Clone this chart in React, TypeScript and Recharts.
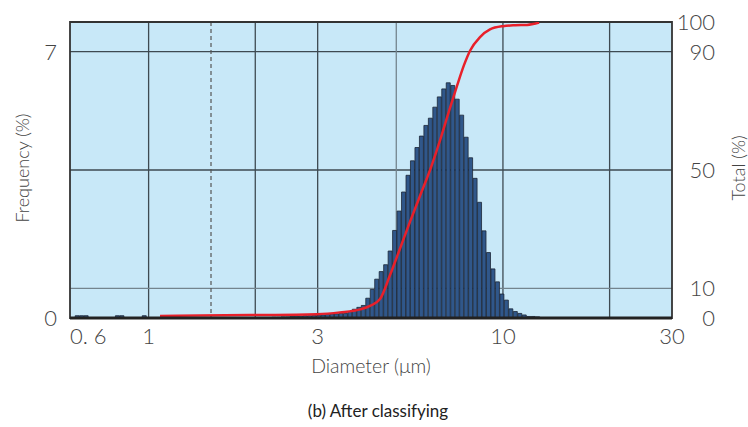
import React from 'react';
import { ComposedChart, Bar, Line, XAxis, YAxis, ReferenceLine, ReferenceArea, CartesianGrid } from 'recharts';

if (typeof document !== 'undefined') {
  document.body.style.margin = '0';
}

// Bin centre diameters (µm) of the histogram
const binDiameters = [
  0.6297, 0.6482, 0.6673, 0.8178, 0.8419, 0.9736,
  2.2611, 2.3277, 2.3963, 2.4669, 2.5396, 2.6144, 2.6914, 2.7707, 2.8524, 2.9364,
  3.0229, 3.112, 3.2037, 3.298, 3.3952, 3.4953, 3.5983, 3.7044, 3.8136, 3.926,
  4.0417, 4.1609, 4.2835, 4.4098, 4.5398, 4.6736, 4.8114, 4.9532, 5.0992, 5.2495,
  5.4043, 5.5636, 5.7276, 5.8964, 6.0702, 6.2492, 6.4334, 6.623, 6.8183, 7.0193,
  7.2262, 7.4392, 7.6585, 7.8843, 8.1167, 8.356, 8.6023, 8.8559, 9.117, 9.3857,
  9.6624, 9.9473, 10.2405, 10.5424, 10.8532, 11.1731, 11.5025, 11.8416, 12.1907, 12.55,
];

// Frequency (%) per bin
const frequency = [
  0.06, 0.06, 0.06, 0.06, 0.06, 0.06,
  0.02, 0.02, 0.03, 0.03, 0.04, 0.05, 0.05, 0.06, 0.06, 0.07,
  0.07, 0.08, 0.09, 0.11, 0.11, 0.12, 0.12, 0.17, 0.23, 0.28,
  0.33, 0.52, 0.75, 1.02, 1.22, 1.4, 1.76, 2.3, 2.81, 3.31,
  3.75, 4.13, 4.48, 4.78, 5.06, 5.25, 5.54, 5.81, 6.02, 6.18,
  6.11, 5.75, 5.33, 4.75, 4.21, 3.67, 3.04, 2.29, 1.72, 1.29,
  0.95, 0.63, 0.47, 0.24, 0.17, 0.12, 0.08, 0.04, 0.04, 0.03,
];

// Cumulative total (%) curve
const totalDiameters = [
  1.077, 1.397, 1.933, 2.987, 3.469, 3.951, 4.215, 4.499, 4.801, 5.124,
  5.467, 5.835, 6.227, 6.644, 7.09, 7.423, 7.768, 8.075, 8.617, 9.193,
  10.01, 10.82, 11.69, 12.16, 12.65,
];
const totalPercent = [
  0.7, 0.85, 1.0, 1.3, 1.9, 2.9, 4.1, 6.4, 14.5, 23.5,
  32.5, 41.3, 50.0, 60.0, 71.0, 78.5, 85.5, 90.3, 94.9, 97.5,
  98.6, 98.9, 99.0, 99.3, 99.8,
];

const xTicks = [0.6, 1, 3, 10, 30];
const xTickLabels = ['0. 6', '1', '3', '10', '30'];
const freqTicks = [0, 7];
const totalTicks = [0, 10, 50, 90, 100];
const darkGridX = [1, 2, 3, 10, 20];
const lightGridX = [5];
const dashedGridX = [1.5];
const darkGridTotal = [50, 90];
const lightGridTotal = [10];

const X_DOMAIN = [0.6, 30];
const FREQ_MAX = 7 / 0.9;

const barData = binDiameters.map((d, i) => ({ d, freq: frequency[i] }));
const lineData = totalDiameters.map((d, i) => ({ d, total: totalPercent[i] }));

const FONT = 'Lato, "Open Sans", sans-serif';

const XTick = (props: any) => {
  const { x, y, payload } = props;
  const i = xTicks.indexOf(payload.value);
  return (
    <text x={x} y={y} dy={18} textAnchor={i === 0 ? 'start' : 'middle'} fontFamily={FONT} fontWeight={300} fontSize={22} fill="#444">
      {xTickLabels[i]}
    </text>
  );
};

const LeftTick = (props: any) => {
  const { x, y, payload } = props;
  return (
    <text x={x} y={y} dx={-5} dy="0.36em" textAnchor="end" fontFamily={FONT} fontWeight={300} fontSize={22} fill="#444">
      {payload.value}
    </text>
  );
};

const RightTick = (props: any) => {
  const { x, y, payload } = props;
  return (
    <text x={x} y={y} dx={35} dy="0.36em" textAnchor="end" fontFamily={FONT} fontWeight={300} fontSize={22} fill="#444">
      {payload.value}
    </text>
  );
};

export default function App() {
  return (
    <div style={{ position: 'relative', width: 748, height: 427, background: '#fff', overflow: 'hidden' }}>
      <ComposedChart
        width={748}
        height={427}
        data={barData}
        margin={{ top: 22, right: 16, bottom: 59, left: 10 }}
        barCategoryGap={0}
        barGap={0}
      >
        <CartesianGrid
          yAxisId="right"
          fill="#c8e8f8"
          fillOpacity={1}
          stroke="#3e4a52"
          strokeWidth={1.3}
          verticalValues={darkGridX}
          horizontalValues={darkGridTotal}
        />
        <CartesianGrid
          yAxisId="right"
          fill="none"
          stroke="#74848e"
          strokeWidth={1.3}
          verticalValues={lightGridX}
          horizontalValues={lightGridTotal}
        />
        <CartesianGrid
          yAxisId="right"
          fill="none"
          stroke="#555"
          strokeWidth={1.2}
          strokeDasharray="4 3"
          horizontal={false}
          verticalValues={dashedGridX}
        />
        <XAxis
          dataKey="d"
          type="number"
          scale="log"
          domain={X_DOMAIN}
          ticks={xTicks}
          allowDataOverflow
          height={50}
          axisLine={false}
          tickLine={false}
          tick={<XTick />}
          interval={0}
        />
        <XAxis xAxisId="line" dataKey="d" type="number" scale="log" domain={X_DOMAIN} allowDataOverflow hide />
        <YAxis
          yAxisId="left"
          type="number"
          domain={[0, FREQ_MAX]}
          ticks={freqTicks}
          allowDataOverflow
          width={60}
          axisLine={false}
          tickLine={false}
          tick={<LeftTick />}
          interval={0}
        />
        <YAxis
          yAxisId="right"
          orientation="right"
          type="number"
          domain={[0, 100]}
          ticks={totalTicks}
          allowDataOverflow
          width={60}
          axisLine={false}
          tickLine={false}
          tick={<RightTick />}
          interval={0}
        />
        <Bar yAxisId="left" dataKey="freq" fill="#30578a" stroke="#1c2636" strokeWidth={0.8} isAnimationActive={false} />
        <Line
          xAxisId="line"
          yAxisId="right"
          data={lineData}
          dataKey="total"
          type="monotone"
          stroke="#e8202a"
          strokeWidth={2.5}
          dot={false}
          activeDot={false}
          isAnimationActive={false}
        />
        <ReferenceArea yAxisId="left" x1={0.6} x2={30} y1={0} y2={FREQ_MAX} fill="none" stroke="#333" strokeWidth={1.8} />
        <ReferenceLine yAxisId="left" y={0} stroke="#222" strokeWidth={3} />
      </ComposedChart>
      <div
        style={{
          position: 'absolute', left: 22, top: 168, transform: 'translate(-50%, -50%) rotate(-90deg)',
          fontFamily: FONT, fontWeight: 300, fontSize: 18, color: '#444', whiteSpace: 'nowrap',
        }}
      >
        Frequency (%)
      </div>
      <div
        style={{
          position: 'absolute', left: 738, top: 168, transform: 'translate(-50%, -50%) rotate(-90deg)',
          fontFamily: FONT, fontWeight: 300, fontSize: 18, color: '#444', whiteSpace: 'nowrap',
        }}
      >
        Total (%)
      </div>
      <div
        style={{
          position: 'absolute', left: 371, top: 365, transform: 'translate(-50%, -50%)',
          fontFamily: FONT, fontWeight: 300, fontSize: 19.5, color: '#444', whiteSpace: 'nowrap',
        }}
      >
        Diameter (μm)
      </div>
      <div
        style={{
          position: 'absolute', left: 378, top: 410, transform: 'translate(-50%, -50%)',
          fontFamily: FONT, fontWeight: 400, fontSize: 17, color: '#222', whiteSpace: 'nowrap',
        }}
      >
        (b) After classifying
      </div>
    </div>
  );
}
